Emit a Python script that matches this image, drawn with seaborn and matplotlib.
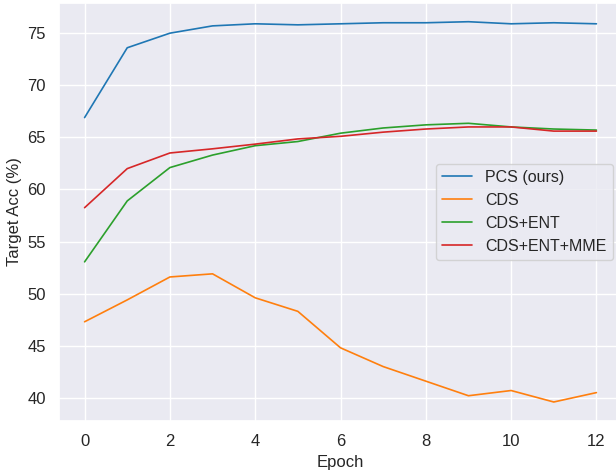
import matplotlib
matplotlib.use('Agg')
import matplotlib.pyplot as plt
import seaborn as sns

# ─── Dữ liệu ───
epochs = list(range(13))
pcs = [66.9, 73.6, 75.0, 75.7, 75.9, 75.8, 75.9, 76.0, 76.0, 76.1, 75.9, 76.0, 75.9]
cds = [47.3, 49.4, 51.6, 51.9, 49.6, 48.3, 44.8, 43.0, 41.6, 40.2, 40.7, 39.6, 40.5]
cds_ent = [53.05, 58.9, 62.1, 63.3, 64.2, 64.6, 65.4, 65.9, 66.2, 66.35, 66.0, 65.8, 65.7]
cds_ent_mme = [58.25, 62.0, 63.5, 63.9, 64.35, 64.85, 65.1, 65.5, 65.8, 66.0, 66.0, 65.6, 65.6]

series = [
    ('PCS (ours)', pcs),
    ('CDS', cds),
    ('CDS+ENT', cds_ent),
    ('CDS+ENT+MME', cds_ent_mme),
]

sns.set_theme(style='darkgrid')
plt.rcParams['font.family'] = ['Liberation Sans', 'DejaVu Sans']

fig = plt.figure(figsize=(6.16, 4.70), dpi=100)
ax = fig.add_axes([59 / 616, 1 - 421 / 470, 563 / 616, 418.3 / 470])

colors = sns.color_palette('tab10')
for (name, vals), c in zip(series, colors):
    sns.lineplot(x=epochs, y=vals, label=name, color=c, linewidth=1.2, ax=ax)

ax.set_xticks([0, 2, 4, 6, 8, 10, 12])
ax.set_xlabel('Epoch', fontsize=12)
ax.set_ylabel('Target Acc (%)', fontsize=12)
ax.tick_params(labelsize=12)

ax.legend(loc='center right', bbox_to_anchor=(0.995, 0.549),
          bbox_transform=fig.transFigure, borderaxespad=0, fontsize=11.5,
          handlelength=1.9)

fig.savefig('out.png', dpi=100)
